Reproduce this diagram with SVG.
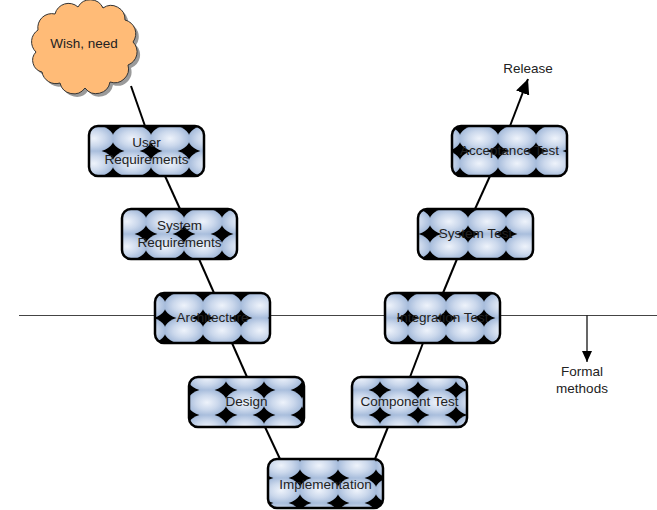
<svg xmlns="http://www.w3.org/2000/svg" width="657" height="510" viewBox="0 0 657 510">
<defs>
<radialGradient id="blob" cx="50%" cy="50%" r="50%">
<stop offset="0" stop-color="#EEF3FB"/>
<stop offset="0.55" stop-color="#CBD8EC"/>
<stop offset="1" stop-color="#A4BADA"/>
</radialGradient>
<pattern id="tiles" patternUnits="userSpaceOnUse" width="38" height="25">
<rect width="38" height="25" fill="#000"/>
<ellipse cx="19" cy="12.5" rx="19.8" ry="13.4" fill="url(#blob)"/>
</pattern>
<marker id="bigArrow" markerUnits="userSpaceOnUse" markerWidth="16" markerHeight="14" refX="15" refY="7" orient="auto">
<path d="M0,0 L15,7 L0,14 z" fill="#000"/>
</marker>
<marker id="smallArrow" markerUnits="userSpaceOnUse" markerWidth="12" markerHeight="10" refX="11" refY="5" orient="auto">
<path d="M0,0 L11,5 L0,10 z" fill="#000"/>
</marker>
</defs>
<style>
.frame{fill:none;stroke:#000;stroke-width:2.5}
.fill{fill:url(#tiles)}
.lbl{font-family:"Liberation Sans",Arial,sans-serif;font-size:13.5px;fill:#222;text-anchor:middle}
.conn{stroke:#000;stroke-width:2;fill:none}
</style>

<g id="connectors">
<line class="conn" x1="131" y1="86" x2="145" y2="126"/>
<line class="conn" x1="165" y1="176" x2="180" y2="209"/>
<line class="conn" x1="199" y1="259" x2="214" y2="293"/>
<line class="conn" x1="232" y1="343" x2="247" y2="377"/>
<line class="conn" x1="265" y1="427" x2="280" y2="459"/>
<line class="conn" x1="375" y1="459" x2="388" y2="427"/>
<line class="conn" x1="410" y1="377" x2="423" y2="343"/>
<line class="conn" x1="443" y1="293" x2="457" y2="259"/>
<line class="conn" x1="475" y1="209" x2="490" y2="176"/>
<line class="conn" x1="510" y1="126" x2="528" y2="79" marker-end="url(#bigArrow)"/>
<line x1="19" y1="315.5" x2="657" y2="315.5" stroke="#444" stroke-width="1.2"/>
<line x1="587" y1="315.5" x2="587" y2="362" stroke="#000" stroke-width="1.2" marker-end="url(#smallArrow)"/>
</g>

<g id="cloud">
<path transform="translate(3,3)" fill="#9a9a9a" d="M36,52 A14,14 0 0 1 38,30 A14,14 0 0 1 55,14 A14,14 0 0 1 78,7 A14,14 0 0 1 103,8 A14,14 0 0 1 125,20 A14,14 0 0 1 133,42 A14,14 0 0 1 128,65 A14,14 0 0 1 110,82 A14,14 0 0 1 85,88 A14,14 0 0 1 60,83 A14,14 0 0 1 42,72 A12,12 0 0 1 36,52 z"/>
<path fill="#FFBB77" stroke="#333" stroke-width="1" d="M36,52 A14,14 0 0 1 38,30 A14,14 0 0 1 55,14 A14,14 0 0 1 78,7 A14,14 0 0 1 103,8 A14,14 0 0 1 125,20 A14,14 0 0 1 133,42 A14,14 0 0 1 128,65 A14,14 0 0 1 110,82 A14,14 0 0 1 85,88 A14,14 0 0 1 60,83 A14,14 0 0 1 42,72 A12,12 0 0 1 36,52 z"/>
<text class="lbl" x="84" y="48">Wish, need</text>
</g>

<g id="user-requirements">
<g transform="translate(75,126)"><rect class="fill" x="14" y="0" width="115" height="50" rx="9"/></g>
<rect class="frame" x="89" y="126" width="115" height="50" rx="9"/>
<text class="lbl" x="146.5" y="147">User</text>
<text class="lbl" x="146.5" y="164">Requirements</text>
</g>

<g id="system-requirements">
<g transform="translate(108,209)"><rect class="fill" x="14" y="0" width="115" height="50" rx="9"/></g>
<rect class="frame" x="122" y="209" width="115" height="50" rx="9"/>
<text class="lbl" x="179.5" y="230">System</text>
<text class="lbl" x="179.5" y="247">Requirements</text>
</g>

<g id="architecture">
<g transform="translate(127,293)"><rect class="fill" x="28" y="0" width="115" height="50" rx="9"/></g>
<rect class="frame" x="155" y="293" width="115" height="50" rx="9"/>
<text class="lbl" x="212.5" y="322">Architecture</text>
</g>

<g id="design">
<g transform="translate(188,365)"><rect class="fill" x="1" y="12" width="115" height="50" rx="9"/></g>
<rect class="frame" x="189" y="377" width="115" height="50" rx="9"/>
<text class="lbl" x="246.5" y="406">Design</text>
</g>

<g id="implementation">
<g transform="translate(262,453)"><rect class="fill" x="6" y="6" width="115" height="49" rx="9"/></g>
<rect class="frame" x="268" y="459" width="115" height="49" rx="9"/>
<text class="lbl" x="325.5" y="489">Implementation</text>
</g>

<g id="component-test">
<g transform="translate(342,365)"><rect class="fill" x="10" y="12" width="115" height="50" rx="9"/></g>
<rect class="frame" x="352" y="377" width="115" height="50" rx="9"/>
<text class="lbl" x="409.5" y="406">Component Test</text>
</g>

<g id="integration-test">
<g transform="translate(370,293)"><rect class="fill" x="15" y="0" width="115" height="50" rx="9"/></g>
<rect class="frame" x="385" y="293" width="115" height="50" rx="9"/>
<text class="lbl" x="442.5" y="322">Integration Test</text>
</g>

<g id="system-test">
<g transform="translate(392,209)"><rect class="fill" x="26" y="0" width="115" height="50" rx="9"/></g>
<rect class="frame" x="418" y="209" width="115" height="50" rx="9"/>
<text class="lbl" x="475.5" y="238">System Test</text>
</g>

<g id="acceptance-test">
<g transform="translate(422,126)"><rect class="fill" x="30" y="0" width="115" height="50" rx="9"/></g>
<rect class="frame" x="452" y="126" width="115" height="50" rx="9"/>
<text class="lbl" x="509.5" y="155">Acceptance Test</text>
</g>

<g id="release">
<text class="lbl" x="528" y="73">Release</text>
</g>

<g id="formal-methods">
<text class="lbl" x="582" y="376">Formal</text>
<text class="lbl" x="582" y="393">methods</text>
</g>
</svg>
